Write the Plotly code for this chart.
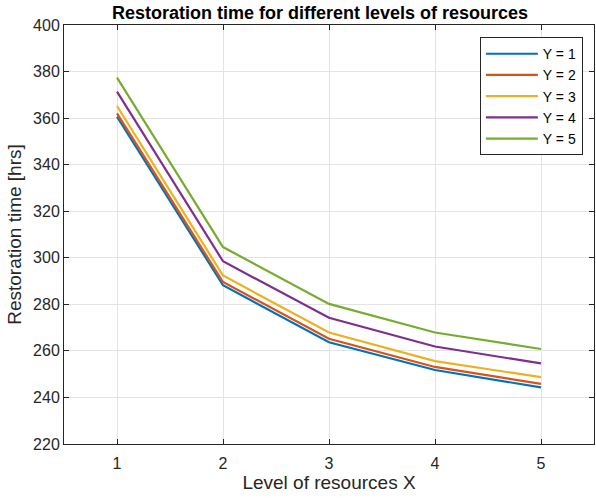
import plotly.graph_objects as go

x_levels = [1, 2, 3, 4, 5]
series_names = ["Y = 1", "Y = 2", "Y = 3", "Y = 4", "Y = 5"]
y1 = [360.6, 288.2, 263.7, 251.8, 244.3]
y2 = [362.0, 289.6, 265.2, 253.1, 245.8]
y3 = [365.2, 292.4, 267.9, 255.6, 248.7]
y4 = [371.4, 298.5, 274.2, 261.9, 254.6]
y5 = [377.4, 304.6, 280.2, 267.9, 260.8]
colors = ["#0072BD", "#D95319", "#EDB120", "#7E2F8E", "#77AC30"]
x_ticks = [1, 2, 3, 4, 5]
y_ticks = [220, 240, 260, 280, 300, 320, 340, 360, 380, 400]

FONT = "Liberation Sans, Arial, sans-serif"
AX = "#262626"

fig = go.Figure()
for name, ys, c in zip(series_names, [y1, y2, y3, y4, y5], colors):
    fig.add_trace(go.Scatter(x=x_levels, y=ys, mode="lines", name=name,
                             line=dict(color=c, width=2.2)))

axis_common = dict(showline=True, linecolor=AX, linewidth=1, mirror="ticks",
                   ticks="inside", ticklen=5, tickcolor=AX,
                   showgrid=True, gridcolor="#e3e3e3", gridwidth=1,
                   zeroline=False, automargin=False,
                   tickfont=dict(family=FONT, size=16, color=AX))

fig.update_layout(
    width=596, height=498, autosize=False,
    margin=dict(l=64, r=2, t=25, b=54),
    paper_bgcolor="white", plot_bgcolor="white",
    title=dict(text="<b>Restoration time for different levels of resources</b>",
               x=320 / 596, xanchor="center", y=1 - 13 / 498, yanchor="middle",
               font=dict(family=FONT, size=18, color="black")),
    xaxis=dict(range=[0.5, 5.5], tickvals=x_ticks, ticklabelstandoff=5,
               title=dict(text="Level of resources X", font=dict(family=FONT, size=19, color=AX), standoff=4),
               **axis_common),
    yaxis=dict(range=[220, 400], tickvals=y_ticks,
               title=dict(text="Restoration time [hrs]", font=dict(family=FONT, size=19, color=AX), standoff=6),
               **axis_common),
    legend=dict(x=0.979, xanchor="right", y=0.971, yanchor="top",
                bgcolor="white", bordercolor=AX, borderwidth=1,
                font=dict(family=FONT, size=14, color="black"),
                itemwidth=52, tracegroupgap=0),
    showlegend=True,
)

fig.write_html("out.html", default_width="596px", default_height="498px",
               config={"responsive": False, "displayModeBar": False},
               post_script="document.body.style.margin='0';document.body.style.overflow='hidden';")
